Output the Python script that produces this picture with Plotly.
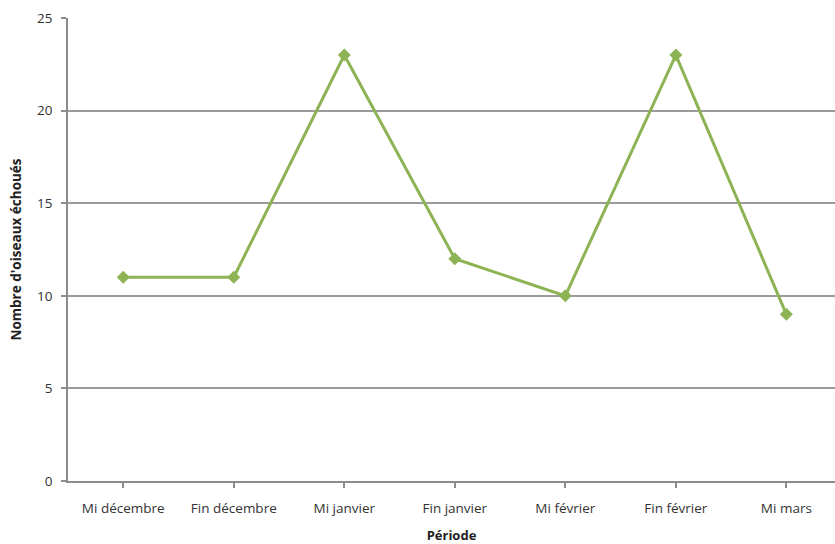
import plotly.graph_objects as go

periodes = ["Mi décembre", "Fin décembre", "Mi janvier", "Fin janvier",
            "Mi février", "Fin février", "Mi mars"]
oiseaux = [11, 11, 23, 12, 10, 23, 9]
y_ticks = [0, 5, 10, 15, 20, 25]

fig = go.Figure()
fig.add_trace(go.Scatter(
    x=list(range(len(periodes))),
    y=oiseaux,
    mode="lines+markers",
    line=dict(color="#8DB355", width=3),
    marker=dict(symbol="diamond", size=10, color="#8DB355"),
    showlegend=False,
))

font_family = "Open Sans, Liberation Sans, sans-serif"

fig.update_layout(
    width=835, height=544,
    margin=dict(l=68, r=0, t=18, b=63),
    plot_bgcolor="white", paper_bgcolor="white",
    font=dict(family=font_family, size=13, color="#333333"),
    xaxis=dict(
        tickmode="array",
        tickvals=list(range(len(periodes))),
        ticktext=periodes,
        range=[-0.5, 6.44],
        showgrid=False,
        showline=True, linecolor="#8c8c8c", linewidth=1.5,
        ticks="outside", ticklen=5, tickcolor="#8c8c8c", tickwidth=1.5,
        tickson="boundaries",
        ticklabelstandoff=9,
        tickfont=dict(size=13.5, color="#333333"),
        title=dict(text="<b>Période</b>", font=dict(size=13, color="#222222"),
                   standoff=17),
        zeroline=False,
    ),
    yaxis=dict(
        range=[0, 25],
        tickvals=y_ticks,
        showgrid=True, gridcolor="#9a9a9a", gridwidth=1.5,
        showline=True, linecolor="#8c8c8c", linewidth=1.5,
        ticks="outside", ticklen=5, tickcolor="#8c8c8c", tickwidth=1.5,
        ticklabelstandoff=6,
        tickfont=dict(size=13.5, color="#333333"),
        title=dict(text="<b>Nombre d'oiseaux échoués</b>",
                   font=dict(size=13.5, color="#222222"), standoff=12),
        zeroline=False,
    ),
)

fig.write_html("out.html")
